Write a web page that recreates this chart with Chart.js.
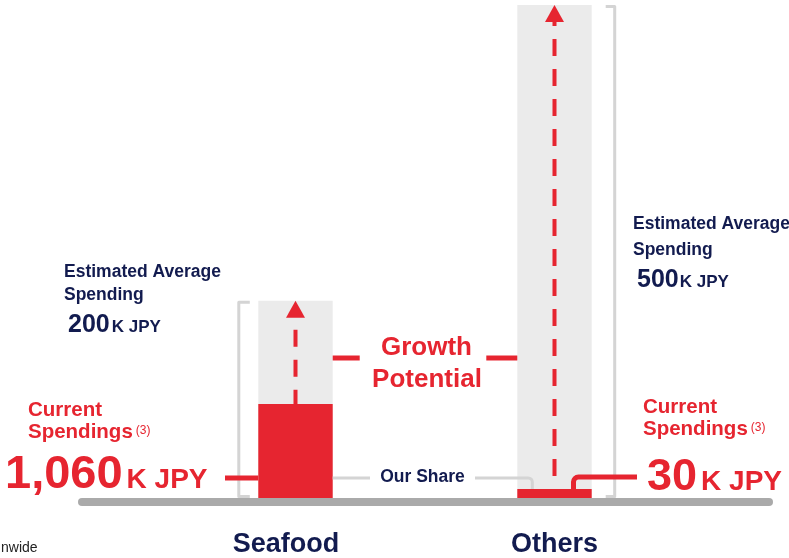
<!DOCTYPE html>
<html>
<head>
<meta charset="utf-8">
<script src="https://cdn.jsdelivr.net/npm/chart.js@4.4.1/dist/chart.umd.min.js"></script>
<style>
  html, body { margin: 0; padding: 0; background: #fff; overflow: hidden; }
  #wrap { width: 789px; height: 558px; }
</style>
</head>
<body>
<div id="wrap"><canvas id="spendChart" width="789" height="558"></canvas></div>
<script>
// Average spending per household, K JPY
const categories = ['Seafood', 'Others'];
const estimatedSpending = [200, 500];
const currentSpending = [1060, 30];

const RED = '#e62530';
const NAVY = '#121b4f';
const BAR_GRAY = '#ebebeb';
const LINE_GRAY = '#d4d4d4';
const FONT = '"Liberation Sans", Arial, Helvetica, sans-serif';

function font(size, weight) {
    return `${weight || 'bold'} ${size}px ${FONT}`;
}

function fmt(v) {
    return v.toLocaleString('en-US');
}

// writes several pieces of text one after another on the same line
function drawRuns(ctx, x, y, runs, color) {
    ctx.fillStyle = color;
    ctx.textAlign = 'left';
    ctx.textBaseline = 'alphabetic';
    runs.forEach(([text, f, dy, gap]) => {
        ctx.font = f;
        x += gap || 0;
        ctx.fillText(text, x, y + (dy || 0));
        x += ctx.measureText(text).width;
    });
}

function drawCentered(ctx, text, x, y, f, color) {
    ctx.fillStyle = color;
    ctx.font = f;
    ctx.textAlign = 'center';
    ctx.textBaseline = 'alphabetic';
    ctx.fillText(text, x, y);
}

function segment(ctx, x1, y1, x2, y2) {
    ctx.beginPath();
    ctx.moveTo(x1, y1);
    ctx.lineTo(x2, y2);
    ctx.stroke();
}

// arrows, brackets, connectors and all the annotation text
const overlay = {
    id: 'overlay',
    afterDatasetsDraw(chart) {
        const ctx = chart.ctx;
        const cur = chart.getDatasetMeta(0).data;
        const est = chart.getDatasetMeta(1).data;
        const base = chart.chartArea.bottom;
        const s = est[0], o = est[1];
        const sLeft = s.x - s.width / 2, sRight = s.x + s.width / 2;
        const oLeft = o.x - o.width / 2, oRight = o.x + o.width / 2;
        const dashPhase = [18, 13];

        ctx.save();

        // dashed growth arrows from current top up to the estimated top
        est.forEach((bar, i) => {
            const top = bar.y;
            ctx.strokeStyle = RED;
            ctx.lineWidth = 4;
            ctx.lineCap = 'butt';
            ctx.setLineDash([17, 13]);
            ctx.lineDashOffset = dashPhase[i];
            segment(ctx, bar.x, top + 17, bar.x, cur[i].y);
            ctx.setLineDash([]);
            ctx.fillStyle = RED;
            ctx.beginPath();
            ctx.moveTo(bar.x, top);
            ctx.lineTo(bar.x - 9.5, top + 17);
            ctx.lineTo(bar.x + 9.5, top + 17);
            ctx.closePath();
            ctx.fill();
        });

        // brackets beside the estimated bars
        ctx.strokeStyle = LINE_GRAY;
        ctx.lineWidth = 3;
        ctx.lineJoin = 'round';
        let bx = sLeft - 19.5;
        ctx.beginPath();
        ctx.moveTo(bx + 11, s.y + 1.5);
        ctx.lineTo(bx, s.y + 1.5);
        ctx.lineTo(bx, base - 1.5);
        ctx.lineTo(bx + 11, base - 1.5);
        ctx.stroke();
        bx = oRight + 23;
        ctx.beginPath();
        ctx.moveTo(bx - 9, o.y + 1.5);
        ctx.lineTo(bx, o.y + 1.5);
        ctx.lineTo(bx, base - 1.5);
        ctx.lineTo(bx - 9, base - 1.5);
        ctx.stroke();

        // "Our Share" leader lines
        segment(ctx, sRight, 478, 370, 478);
        ctx.beginPath();
        ctx.moveTo(475, 478);
        ctx.arcTo(oLeft + 15, 478, oLeft + 15, cur[1].y, 4);
        ctx.lineTo(oLeft + 15, cur[1].y);
        ctx.stroke();

        // red connectors
        ctx.strokeStyle = RED;
        ctx.lineWidth = 5;
        segment(ctx, sRight, 358, sRight + 27, 358);
        segment(ctx, oLeft - 31, 358, oLeft, 358);
        segment(ctx, 225, 478, sLeft, 478);
        ctx.beginPath();
        ctx.moveTo(637, 477);
        ctx.arcTo(o.x + 19, 477, o.x + 19, cur[1].y, 5);
        ctx.lineTo(o.x + 19, cur[1].y);
        ctx.stroke();

        // ground line
        ctx.strokeStyle = '#aaaaaa';
        ctx.lineWidth = 8;
        ctx.lineCap = 'round';
        segment(ctx, 82, base + 4, 769, base + 4);

        // estimated spending labels
        drawRuns(ctx, 64, 277, [['Estimated Average', font(17.5)]], NAVY);
        drawRuns(ctx, 64, 300, [['Spending', font(17.5)]], NAVY);
        drawRuns(ctx, 68, 332, [[fmt(estimatedSpending[0]), font(25)], ['K JPY', font(17), 0, 2]], NAVY);
        drawRuns(ctx, 633, 229, [['Estimated Average', font(17.5)]], NAVY);
        drawRuns(ctx, 633, 255, [['Spending', font(17.5)]], NAVY);
        drawRuns(ctx, 637, 287, [[fmt(estimatedSpending[1]), font(25)], ['K JPY', font(17), 0, 1]], NAVY);

        // current spending labels
        drawRuns(ctx, 28, 416, [['Current', font(20.5)]], RED);
        drawRuns(ctx, 28, 438, [['Spendings', font(20.5)], ['(3)', font(12, 'normal'), -4, 3]], RED);
        drawRuns(ctx, 5, 488, [[fmt(currentSpending[0]), font(47)], ['K JPY', font(28), 0, 4]], RED);
        drawRuns(ctx, 643, 413, [['Current', font(20.5)]], RED);
        drawRuns(ctx, 643, 435, [['Spendings', font(20.5)], ['(3)', font(12, 'normal'), -4, 3]], RED);
        drawRuns(ctx, 647, 490, [[fmt(currentSpending[1]), font(45)], ['K JPY', font(28), 0, 4]], RED);

        drawCentered(ctx, 'Growth', 426.5, 355, font(26), RED);
        drawCentered(ctx, 'Potential', 427, 387, font(26), RED);
        drawCentered(ctx, 'Our Share', 422.5, 482, font(17.5), NAVY);

        // category names
        drawCentered(ctx, categories[0], 286, 552, font(27), NAVY);
        drawCentered(ctx, categories[1], 554.5, 552, font(27), NAVY);

        drawRuns(ctx, 1, 552, [['nwide', font(14, 'normal')]], '#222222');

        ctx.restore();
    }
};

const spendChart = new Chart(document.getElementById('spendChart'), {
    type: 'bar',
    data: {
        labels: categories,
        datasets: [
            {
                label: 'Current Spendings',
                data: currentSpending,
                yAxisID: 'yCurrent',
                backgroundColor: RED,
                grouped: false,
                order: 0
            },
            {
                label: 'Estimated Average Spending',
                data: estimatedSpending,
                yAxisID: 'y',
                backgroundColor: BAR_GRAY,
                grouped: false,
                order: 1
            }
        ]
    },
    options: {
        responsive: false,
        animation: false,
        devicePixelRatio: 1,
        barPercentage: 0.2873,
        categoryPercentage: 1,
        layout: { padding: { left: 166, right: 105, top: 0, bottom: 60 } },
        scales: {
            x: { display: false, offset: true, grid: { display: false } },
            y: { display: false, min: 0, max: 505 },
            // current spending runs on its own log scale
            yCurrent: { type: 'logarithmic', display: false, min: 20.6, max: 2.4e10 }
        },
        plugins: {
            legend: { display: false },
            tooltip: { enabled: false }
        }
    },
    plugins: [overlay]
});
</script>
</body>
</html>
